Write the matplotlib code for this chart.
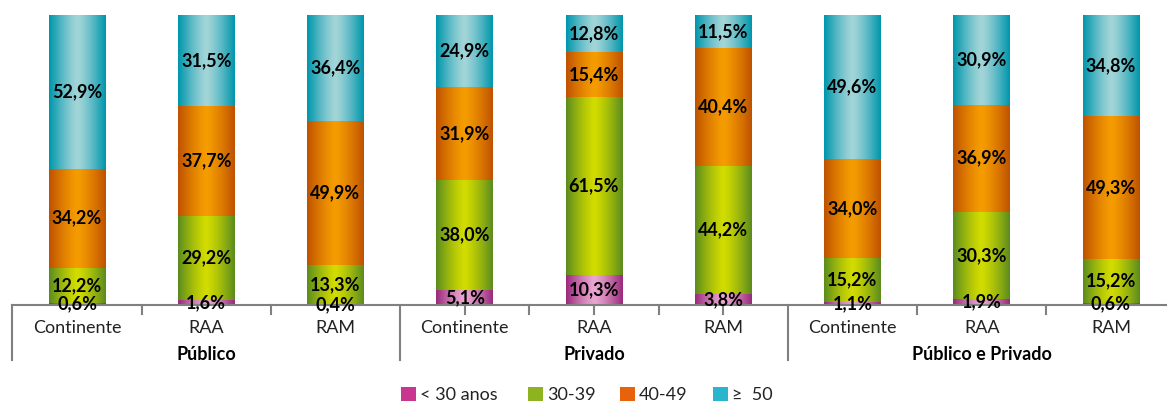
import numpy as np
import matplotlib.pyplot as plt
from matplotlib.colors import LinearSegmentedColormap
from matplotlib.patches import Rectangle
import matplotlib.transforms as mtransforms

plt.rcParams['font.family'] = ['Lato', 'DejaVu Sans']

categories = ["Continente", "RAA", "RAM"] * 3
groups = ["Público", "Privado", "Público e Privado"]
series = ["< 30 anos", "30-39", "40-49", "≥  50"]

under30 = [0.6, 1.6, 0.4, 5.1, 10.3, 3.8, 1.1, 1.9, 0.6]
age30_39 = [12.2, 29.2, 13.3, 38.0, 61.5, 44.2, 15.2, 30.3, 15.2]
age40_49 = [34.2, 37.7, 49.9, 31.9, 15.4, 40.4, 34.0, 36.9, 49.3]
over50 = [52.9, 31.5, 36.4, 24.9, 12.8, 11.5, 49.6, 30.9, 34.8]

# (edge, centre) colours for the cylinder-like gradient, plus legend colour
grad = [("#9a2a7c", "#eaa6d0"), ("#5c8c1e", "#d2dc00"),
        ("#bf5200", "#f59c00"), ("#0096ac", "#a2d5d8")]
legend_cols = ["#c8368f", "#8db320", "#e8620a", "#29b5cb"]

raw = [under30, age30_39, age40_49, over50]
vals = np.array(raw)
vals = vals / vals.sum(axis=0) * 100

fig = plt.figure(figsize=(11.67, 4.01), dpi=100)
# the plot area runs slightly past the right edge of the image
ax = fig.add_axes([12.4/1167, 1 - 305/401, 1163.2/1167, 290/401])

x = np.arange(len(categories))
w = 0.44
prof = np.abs(np.linspace(-1, 1, 64)) ** 1.3
prof = prof[np.newaxis, :]
bottom = np.zeros(len(categories))
for k in range(4):
    cmap = LinearSegmentedColormap.from_list("g%d" % k, [grad[k][1], grad[k][0]])
    for i in range(len(categories)):
        y0, y1 = bottom[i], bottom[i] + vals[k, i]
        ax.imshow(prof, cmap=cmap, vmin=0, vmax=1, aspect='auto',
                  extent=(x[i] - w/2, x[i] + w/2, y0, y1), interpolation='bilinear',
                  zorder=2)
        ax.text(x[i], (y0 + y1) / 2, ("%.1f%%" % raw[k][i]).replace(".", ","),
                ha='center', va='center', fontsize=13, fontweight='bold',
                color='black', zorder=5)
    bottom += vals[k]

ax.set_xlim(-0.5, len(categories) - 0.5)
ax.set_ylim(0, 100)
ax.set_xticks([])
ax.set_yticks([])
for s in ['top', 'right', 'left']:
    ax.spines[s].set_visible(False)
ax.spines['bottom'].set_color('#808080')
ax.spines['bottom'].set_linewidth(1.5)

trans = mtransforms.blended_transform_factory(ax.transData, ax.transAxes)
line_kw = dict(color='#808080', lw=1.5, transform=trans, clip_on=False)
# group dividers
for xd in [-0.5, 2.5, 5.5, 8.5]:
    ax.plot([xd, xd], [0, -55/290], **line_kw)
# short ticks
for xt in [0.5, 1.5, 3.0, 3.5, 4.0, 4.5, 5.0, 6.5, 7.5]:
    ax.plot([xt, xt], [0, -9/290], **line_kw)

for i, c in enumerate(categories):
    ax.text(x[i], -23/290, c, transform=trans, ha='center', va='center',
            fontsize=13, color='#222222')
for g, name in enumerate(groups):
    ax.text(3 * g + 1, -50/290, name, transform=trans, ha='center', va='center',
            fontsize=13, fontweight='bold', color='black')

# legend
leg_x = [401, 528, 620, 713]
for k in range(4):
    fig.patches.append(Rectangle((leg_x[k] / 1167, 1 - 402/401), 15/1167, 15/401,
                                 transform=fig.transFigure,
                                 facecolor=legend_cols[k], edgecolor='none'))
    fig.text((leg_x[k] + 19) / 1167, 1 - 395/401, series[k], ha='left',
             va='center', fontsize=13, color='#222222')

fig.savefig("out.png", dpi=100)
